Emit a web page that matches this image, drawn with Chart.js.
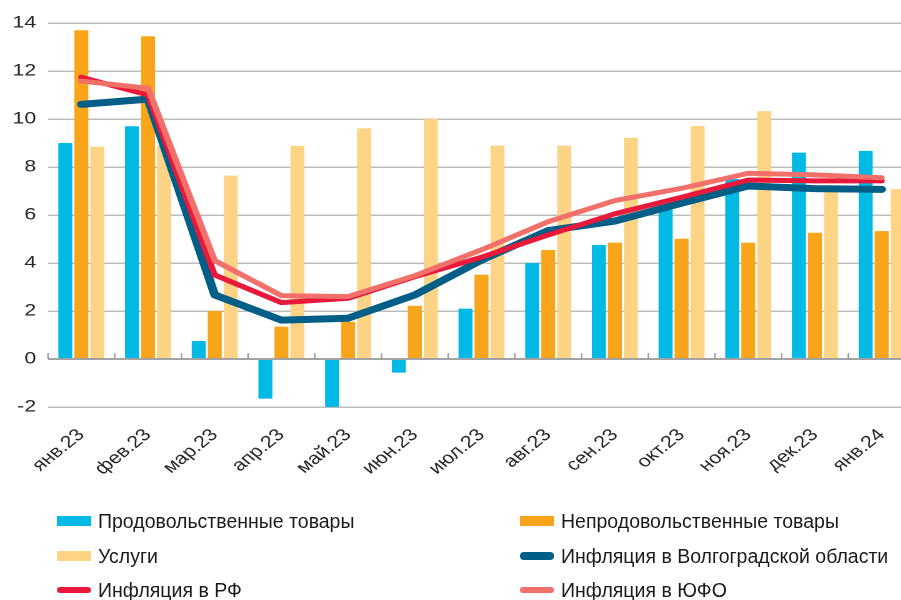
<!DOCTYPE html>
<html>
<head>
<meta charset="utf-8">
<script src="https://cdn.jsdelivr.net/npm/chart.js@4.4.1/dist/chart.umd.min.js"></script>
<style>
  html, body { margin: 0; padding: 0; background: #fff; }
  #wrap { position: relative; width: 901px; height: 600px; overflow: hidden; background: #fff; }
  #c { position: absolute; left: 0; top: 0; transform-origin: 0 0; transform: scaleX(1.25); }
  .leg { position: absolute; font-family: 'Liberation Sans', Arial, sans-serif; font-size: 19.5px; color: #1a1a1a; white-space: nowrap; line-height: 20px; }
  .mk { position: absolute; }
</style>
</head>
<body>
<div id="wrap">
  <canvas id="c"></canvas>
  <div id="legend"></div>
</div>
<script>
// ---- data ----
const categories = ['янв.23','фев.23','мар.23','апр.23','май.23','июн.23','июл.23','авг.23','сен.23','окт.23','ноя.23','дек.23','янв.24'];
const food      = [9.0, 9.7, 0.75, -1.65, -2.0, -0.57, 2.1, 4.0, 4.75, 6.35, 7.5, 8.6, 8.67];
const nonFood   = [13.7, 13.45, 2.0, 1.35, 1.55, 2.22, 3.51, 4.54, 4.85, 5.01, 4.85, 5.26, 5.33];
const services  = [8.85, 8.9, 7.64, 8.88, 9.61, 10.0, 8.89, 8.89, 9.22, 9.71, 10.33, 6.97, 7.08];
const volgograd = [10.61, 10.83, 2.67, 1.62, 1.7, 2.67, 4.12, 5.35, 5.75, 6.49, 7.21, 7.10, 7.07];
const rf        = [11.74, 11.0, 3.5, 2.35, 2.53, 3.43, 4.24, 5.17, 6.05, 6.74, 7.46, 7.42, 7.42];
const ufo       = [11.58, 11.28, 4.1, 2.64, 2.6, 3.47, 4.55, 5.72, 6.6, 7.11, 7.74, 7.67, 7.55];
const seriesNames = ['Продовольственные товары','Непродовольственные товары','Услуги','Инфляция в Волгоградской области','Инфляция в РФ','Инфляция в ЮФО'];
const yMin = -2, yMax = 14, yStep = 2;

const colors = ['#00B9E4', '#F8A51C', '#FDD386', '#005E87', '#E8193B', '#F2706A'];
const STRETCH = 1.25;
const W = Math.round(915 / STRETCH), H = 600;

const canvas = document.getElementById('c');
canvas.width = W; canvas.height = H;
canvas.style.width = W + 'px'; canvas.style.height = H + 'px';

const zeroTicks = {
  id: 'zeroTicks',
  beforeDatasetsDraw(chart) {
    const x = chart.scales.x, y = chart.scales.y, ctx = chart.ctx;
    const step = x.getPixelForValue(1) - x.getPixelForValue(0);
    const y0 = y.getPixelForValue(0);
    ctx.save();
    ctx.strokeStyle = '#9e9e9e';
    ctx.lineWidth = 1.5 / STRETCH;
    for (let i = 0; i <= categories.length; i++) {
      const px = x.getPixelForValue(i) - step / 2;
      ctx.beginPath(); ctx.moveTo(px, y0 - 6); ctx.lineTo(px, y0); ctx.stroke();
    }
    ctx.restore();
  }
};

const barCommon = { type: 'bar', categoryPercentage: 0.72, barPercentage: 0.875, borderWidth: 0, order: 10 };
const lineCommon = { type: 'line', pointRadius: 0, tension: 0, borderCapStyle: 'round', borderJoinStyle: 'round', fill: false };

new Chart(canvas, {
  data: {
    labels: categories,
    datasets: [
      { ...barCommon, label: seriesNames[0], data: food, backgroundColor: colors[0] },
      { ...barCommon, label: seriesNames[1], data: nonFood, backgroundColor: colors[1] },
      { ...barCommon, label: seriesNames[2], data: services, backgroundColor: colors[2] },
      { ...lineCommon, label: seriesNames[3], data: volgograd, borderColor: colors[3], borderWidth: 7, order: 3 },
      { ...lineCommon, label: seriesNames[4], data: rf, borderColor: colors[4], borderWidth: 5, order: 2 },
      { ...lineCommon, label: seriesNames[5], data: ufo, borderColor: colors[5], borderWidth: 5, order: 1 }
    ]
  },
  options: {
    responsive: false,
    devicePixelRatio: 2,
    animation: false,
    layout: { padding: { top: 23, right: 0, left: 0, bottom: 0 } },
    plugins: { legend: { display: false }, tooltip: { enabled: false }, title: { display: false } },
    scales: {
      x: {
        offset: true,
        grid: { display: false },
        border: { display: false },
        ticks: { minRotation: 45, maxRotation: 45, padding: 10, color: '#262626', font: { family: "'Liberation Sans', Arial, sans-serif", size: 17 } },
        afterFit: s => { s.height = H - 407; }
      },
      y: {
        min: yMin, max: yMax,
        ticks: { stepSize: yStep, padding: 9.5, color: '#262626', font: { family: "'Liberation Sans', Arial, sans-serif", size: 17 } },
        grid: {
          drawTicks: false,
          color: c => c.tick && c.tick.value === 0 ? '#a3a3a3' : '#bdbdbd',
          lineWidth: c => c.tick && c.tick.value === 0 ? 2 : 1.5
        },
        border: { display: false },
        afterFit: s => { s.width = 48 / STRETCH; }
      }
    }
  },
  plugins: [zeroTicks]
});

// ---- legend (HTML, built from the series arrays) ----
const legend = document.getElementById('legend');
const legendCols = [57, 520];
const legendRows = [521, 556, 590];
const isLine = [false, false, false, true, true, true];
const lineThick = [0, 0, 0, 8, 6, 6];
seriesNames.forEach((name, i) => {
  const col = legendCols[i % 2], row = legendRows[Math.floor(i / 2)];
  const mk = document.createElement('div');
  mk.className = 'mk';
  if (isLine[i]) {
    const t = lineThick[i];
    Object.assign(mk.style, { left: col + 'px', top: (row - t / 2) + 'px', width: '34px', height: t + 'px', background: colors[i], borderRadius: (t / 2) + 'px' });
  } else {
    Object.assign(mk.style, { left: col + 'px', top: (row - 5) + 'px', width: '34px', height: '10px', background: colors[i] });
  }
  legend.appendChild(mk);
  const tx = document.createElement('div');
  tx.className = 'leg';
  tx.textContent = name;
  Object.assign(tx.style, { left: (col + 41) + 'px', top: (row - 10) + 'px' });
  legend.appendChild(tx);
});
</script>
</body>
</html>
